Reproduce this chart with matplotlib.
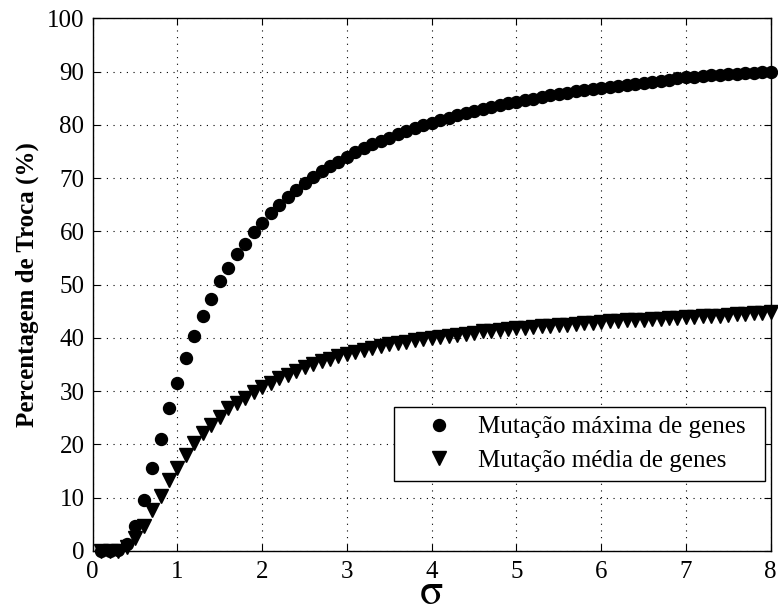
import numpy as np
import matplotlib
matplotlib.use("Agg")
import matplotlib.pyplot as plt

# sigma values (0.1 .. 8.0)
sigma = np.round(np.arange(1, 81) * 0.1, 1)

# percentage of swaps, maximum gene mutation
troca_max = [0.0, 0.0, 0.2, 1.4, 4.6, 9.6, 15.5, 21.1, 26.8, 31.6,
             36.3, 40.3, 44.2, 47.3, 50.6, 53.2, 55.7, 57.7, 59.8, 61.6,
             63.4, 64.9, 66.4, 67.7, 69.0, 70.2, 71.3, 72.2, 73.1, 74.0,
             74.8, 75.6, 76.3, 77.0, 77.6, 78.2, 78.8, 79.4, 79.9, 80.4,
             80.9, 81.3, 81.8, 82.2, 82.6, 83.0, 83.3, 83.7, 84.0, 84.3,
             84.6, 84.9, 85.2, 85.5, 85.8, 86.0, 86.3, 86.5, 86.7, 86.9,
             87.1, 87.3, 87.5, 87.7, 87.9, 88.1, 88.3, 88.5, 88.7, 88.9,
             89.0, 89.2, 89.3, 89.4, 89.5, 89.6, 89.7, 89.8, 89.9, 90.0]

# percentage of swaps, mean gene mutation
troca_media = [0.0, 0.0, 0.0, 0.8, 2.4, 4.6, 7.7, 10.3, 13.3, 15.6,
               18.0, 20.2, 22.1, 23.6, 25.2, 26.8, 27.7, 28.8, 29.9, 30.7,
               31.6, 32.4, 33.1, 33.8, 34.5, 35.1, 35.6, 36.1, 36.6, 37.0,
               37.4, 37.8, 38.1, 38.5, 38.8, 39.1, 39.3, 39.6, 39.8, 40.0,
               40.2, 40.4, 40.6, 40.8, 41.0, 41.2, 41.3, 41.5, 41.6, 41.8,
               41.9, 42.0, 42.2, 42.3, 42.4, 42.5, 42.6, 42.7, 42.8, 43.0,
               43.1, 43.2, 43.3, 43.3, 43.4, 43.5, 43.6, 43.7, 43.8, 43.9,
               44.0, 44.1, 44.2, 44.2, 44.3, 44.4, 44.5, 44.6, 44.7, 44.8]

plt.rcParams['font.family'] = ['Liberation Serif', 'DejaVu Serif']
plt.rcParams['font.size'] = 18

fig = plt.figure(figsize=(7.78, 6.08), dpi=100)
ax = fig.add_axes([0.1192, 0.0938, 0.8714, 0.8762])

ax.plot(sigma, troca_max, linestyle='none', marker='o', markersize=8.6,
        color='black', clip_on=False, zorder=3, label='Mutação máxima de genes')
ax.plot(sigma, troca_media, linestyle='none', marker='v', markersize=9.5,
        color='black', clip_on=False, zorder=3, label='Mutação média de genes')

ax.set_xlim(0, 8)
ax.set_ylim(0, 100)
ax.set_xticks(range(0, 9))
ax.set_yticks(range(0, 101, 10))
ax.grid(True, color='black', linestyle=(0, (1, 5)), linewidth=0.8)
ax.tick_params(direction='in', length=5, width=0.8, top=True, right=True,
               labelsize=18)
ax.tick_params(axis='x', pad=7)
ax.tick_params(axis='y', pad=6)
for sp in ax.spines.values():
    sp.set_linewidth(1.0)

ax.set_ylabel('Percentagem de Troca (%)', fontsize=18, fontweight='bold', labelpad=6)
ax.set_xlabel('σ', fontsize=31, family=['STIXGeneral', 'DejaVu Serif'], labelpad=-6)

# legend box stretched to a fixed width, entries left aligned
leg = ax.legend(loc='lower left', bbox_to_anchor=(0.444, 0.131, 0.5476, 0.139),
                mode='expand', borderaxespad=0, fancybox=False, framealpha=1,
                edgecolor='black', fontsize=18, handletextpad=0.1,
                borderpad=0.36, labelspacing=0.45, handlelength=2.9)
leg.get_frame().set_linewidth(1.0)

fig.savefig('out.png', dpi=100)
